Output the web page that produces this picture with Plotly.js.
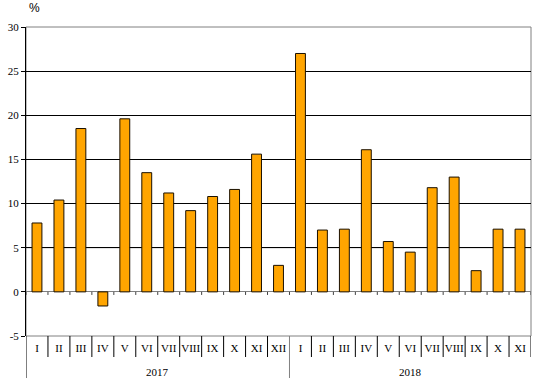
<!DOCTYPE html>
<html>
<head>
<meta charset="utf-8">
<script src="https://cdn.plot.ly/plotly-3.0.1.min.js"></script>
<style>html,body{margin:0;padding:0;background:#fff;}#chart{width:539px;height:387px;}</style>
</head>
<body>
<div id="chart"></div>
<script>
const years = ['2017', '2018'];
const months2017 = ['I','II','III','IV','V','VI','VII','VIII','IX','X','XI','XII'];
const months2018 = ['I','II','III','IV','V','VI','VII','VIII','IX','X','XI'];
const values2017 = [7.8, 10.4, 18.5, -1.6, 19.6, 13.5, 11.2, 9.2, 10.8, 11.6, 15.6, 3.0];
const values2018 = [27.0, 7.0, 7.1, 16.1, 5.7, 4.5, 11.8, 13.0, 2.4, 7.1, 7.1];
const yTicks = [-5, 0, 5, 10, 15, 20, 25, 30];
const yTickText = ['-5', '0', '5', '10', '15', '20', '25', '30'];

const labels = months2017.concat(months2018);
const values = values2017.concat(values2018);
const xs = labels.map((_, i) => i);
const n = labels.length;
const font = {family: 'Liberation Serif, Times New Roman, serif', size: 11, color: '#000'};

const shapes = [];
// outer frame (gray)
shapes.push({type: 'rect', xref: 'paper', yref: 'paper', x0: 0, x1: 1, y0: 0, y1: 1,
  line: {color: '#808080', width: 1}, layer: 'below'});
// gray line at 5
shapes.push({type: 'line', xref: 'paper', yref: 'y', x0: 0, x1: 1, y0: 5, y1: 5,
  line: {color: '#808080', width: 1}, layer: 'below'});
// small ticks on zero line and separators under the plot
for (let i = 0; i <= n; i++) {
  const b = i - 0.5;
  shapes.push({type: 'line', xref: 'x', yref: 'y', x0: b, x1: b, y0: 0, y1: -0.35,
    line: {color: '#404040', width: 1}});
  const isYearEdge = (i === 0 || i === months2017.length);
  shapes.push({type: 'line', xref: 'x', yref: 'paper', x0: b, x1: b, y0: 0,
    y1: isYearEdge ? -0.136 : -0.068,
    line: {color: (i === months2017.length) ? '#808080' : '#000', width: 1}});
}

const annotations = [
  {text: '%', xref: 'paper', yref: 'paper', x: 0.017, y: 1.06, showarrow: false,
   xanchor: 'center', yanchor: 'middle', font: {family: 'Liberation Sans, Arial, sans-serif', size: 12, color: '#000'}},
  {text: years[0], xref: 'x', yref: 'paper', x: (months2017.length - 1) / 2, y: -0.117, showarrow: false,
   xanchor: 'center', yanchor: 'middle', font: font},
  {text: years[1], xref: 'x', yref: 'paper', x: months2017.length + (months2018.length - 1) / 2, y: -0.117, showarrow: false,
   xanchor: 'center', yanchor: 'middle', font: font}
];

const trace = {
  type: 'bar', x: xs, y: values, width: 0.45,
  marker: {color: '#FFA500', line: {color: '#1a1000', width: 1}},
  hoverinfo: 'skip'
};

const layout = {
  width: 539, height: 387,
  margin: {l: 26, r: 8, t: 27, b: 51},
  paper_bgcolor: '#fff', plot_bgcolor: '#fff',
  showlegend: false,
  font: font,
  xaxis: {range: [-0.5, n - 0.5], tickvals: xs, ticktext: labels, ticks: '',
    showgrid: false, zeroline: false, showline: false, tickfont: font, fixedrange: true,
    ticklabelstandoff: 4},
  yaxis: {range: [-5, 30], tickvals: yTicks, ticktext: yTickText, showgrid: true, gridcolor: '#000', gridwidth: 1,
    zeroline: true, zerolinecolor: '#808080', zerolinewidth: 1,
    showline: true, linecolor: '#000', linewidth: 1, ticks: 'outside', ticklen: 4, tickcolor: '#000',
    tickfont: font, fixedrange: true},
  shapes: shapes,
  annotations: annotations
};

Plotly.newPlot('chart', [trace], layout, {staticPlot: true});
</script>
</body>
</html>
